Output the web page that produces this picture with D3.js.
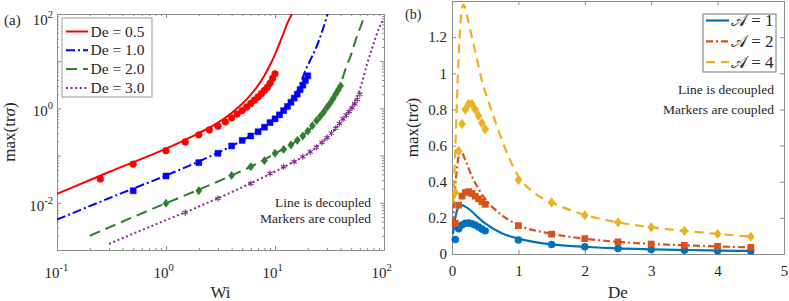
<!DOCTYPE html>
<html lang='en'>
<head>
<meta charset='utf-8'>
<title>max(tr sigma)</title>
<script src="https://d3js.org/d3.v7.min.js"></script>
</head>
<body style="margin:0;background:#fff;">
<div id='chart'></div>
<script type='text/javascript'>
	// ---- panel (a) data : max(tr sigma) vs Wi ----
	const seriesA = ["De = 0.5","De = 1.0","De = 2.0","De = 3.0"];
	const colorsA = ["#ff0000","#0000ff","#2f7f2f","#7e2f8e"];

	// decoupled lines
	const lineA1Wi  = [0.1,0.3,1,2,3,4,5,6,7,8,9,10,11,12,13,14.3];
	const lineA1Val = [0.0155,0.045,0.14,0.3,0.5,0.8,1.25,1.95,3.1,5,8.3,14,24,40,64,100];
	const lineA2Wi  = [0.1,0.3,1,2,3,5,7,10,13,16,19,22,24,27,30.4];
	const lineA2Val = [0.0044,0.0125,0.038,0.075,0.115,0.21,0.33,0.62,1.15,2.3,6.3,13,20,42,100];
	const lineA3Wi  = [0.2,0.5,1,2,4,6,10,15,20,25,30,35,40,45,50,56,62,67];
	const lineA3Val = [0.002,0.005,0.0098,0.019,0.038,0.058,0.11,0.19,0.33,0.55,0.95,1.7,3.3,7.5,14,32,60,100];
	const lineA4Wi  = [0.3,1,1.5,3,6,10,15,20,30,40,50,60,70,80,90,100];
	const lineA4Val = [0.00135,0.0043,0.0063,0.0125,0.026,0.046,0.075,0.11,0.24,0.5,1.05,2.5,8.7,23,50,80];

	// coupled markers
	const markA1Wi  = [0.25,0.5,1,1.5,2,2.5,3,3.5,4,4.5,5,5.5,6,6.5,7,7.5,8,8.5,9,9.5,10];
	const markA1Val = [0.032,0.066,0.127,0.195,0.275,0.35,0.42,0.52,0.63,0.76,0.9,1.07,1.27,1.5,1.75,2.05,2.4,2.8,3.4,4.3,5.4];
	const markA2Wi  = [0.5,1,2,3,4,5,6,7,8,9,10,11,12,13,14,15,16,17,18,19,20];
	const markA2Val = [0.018,0.037,0.071,0.112,0.16,0.21,0.26,0.32,0.4,0.5,0.6,0.73,0.9,1.1,1.35,1.65,2.0,2.5,3.1,3.9,4.9];
	const markA3Wi  = [1,2,4,6,8,10,12,14,16,18,20,22,24,26,28,30,32,34,36,38,40];
	const markA3Val = [0.0098,0.018,0.038,0.058,0.078,0.112,0.135,0.168,0.21,0.26,0.33,0.43,0.55,0.68,0.84,1.05,1.28,1.6,2.0,2.45,3.0];
	const markA4Wi  = [1.5,3,6,9,12,15,18,21,24,27,30,33,36,39,42,45,48,51,54,57,60];
	const markA4Val = [0.0062,0.0124,0.0257,0.042,0.058,0.074,0.095,0.12,0.15,0.19,0.24,0.3,0.38,0.48,0.6,0.72,0.86,1.03,1.25,1.55,2.0];

	const xTicksA = [0.1,1,10,100];
	const xTickExpA = ["-1","0","1","2"];
	const yTicksA = [1e-3,1e-2,1e-1,1,10,100];
	const yLabelTicksA = [1e-2,1,100];
	const yTickExpA = ["-2","0","2"];

	// ---- panel (b) data : max(tr sigma) vs De ----
	const seriesB = ["1","2","4"];
	const colorsB = ["#0072bd","#d95319","#edb120"];

	const lineB1De  = [0.015,0.05,0.1,0.15,0.2,0.3,0.4,0.5,0.75,1,1.5,2,2.5,3,3.5,4,4.5];
	const lineB1Val = [0.11,0.2,0.26,0.27,0.262,0.235,0.2,0.17,0.115,0.085,0.053,0.04,0.031,0.026,0.022,0.019,0.017];
	const lineB2De  = [0.015,0.04,0.08,0.12,0.16,0.2,0.3,0.4,0.5,0.75,1,1.5,2,2.5,3,3.5,4,4.5];
	const lineB2Val = [0.17,0.33,0.49,0.565,0.555,0.52,0.43,0.36,0.305,0.215,0.16,0.112,0.085,0.067,0.056,0.048,0.042,0.037];
	const lineB3De  = [0.02,0.03,0.05,0.075,0.105,0.14,0.17,0.2,0.25,0.35,0.45,0.6,0.8,1,1.25,1.5,2,2.5,3,3.5,4,4.5];
	const lineB3Val = [0.28,0.37,0.58,0.85,1.13,1.33,1.38,1.36,1.28,1.12,0.96,0.79,0.585,0.43,0.335,0.286,0.216,0.175,0.148,0.128,0.111,0.096];

	const markBDe   = [0.05,0.1,0.15,0.2,0.25,0.3,0.35,0.4,0.45,0.5,1,1.5,2,2.5,3,3.5,4,4.5];
	const markB1Val = [0.08,0.14,0.16,0.17,0.172,0.168,0.16,0.15,0.138,0.128,0.078,0.052,0.04,0.031,0.025,0.021,0.018,0.016];
	const markB2Val = [0.17,0.27,0.32,0.34,0.345,0.335,0.32,0.305,0.29,0.275,0.157,0.11,0.085,0.067,0.055,0.048,0.042,0.037];
	const markB3Val = [0.34,0.57,0.72,0.8,0.83,0.83,0.8,0.765,0.725,0.69,0.41,0.285,0.215,0.175,0.148,0.128,0.111,0.096];

	const xTicksB = [0,1,2,3,4,5];
	const yTicksB = [0,0.2,0.4,0.6,0.8,1,1.2,1.4];

	const axisColor = "#8c8c8c";
	const textColor = "#262626";
	const serif = "'Liberation Serif'";
	const zip = (xs,ys) => xs.map((v,i)=>[v,ys[i]]);

	// diamond a bit wider than d3's own
	const diamondWide = {draw(ctx,size){
		const a = Math.sqrt(size/1.5), b = 0.75*a;
		ctx.moveTo(0,-a); ctx.lineTo(b,0); ctx.lineTo(0,a); ctx.lineTo(-b,0); ctx.closePath();
	}};

	const svg = d3.select("#chart").append("svg")
		.attr("width",789).attr("height",301);

	function txt(g,x,y,size){
		return g.append("text").attr("x",x).attr("y",y)
			.style("font-family",serif).style("font-size",size+"px").attr("fill",textColor);
	}
	function styleAxis(g){
		g.attr("font-family",null);
		g.selectAll("path,line").attr("stroke",axisColor);
		g.selectAll("text").style("font-family",serif).style("font-size","15px").attr("fill",textColor);
	}

	// ================= panel (a) =================
	const boxA = {left:57,right:384,top:14,bottom:250};
	const xA = d3.scaleLog().domain([0.1,100]).range([boxA.left,boxA.right]);
	const yA = d3.scaleLog().domain([1e-3,1e2]).range([boxA.bottom,boxA.top]);

	const isMajor = (v,list) => list.some(m => Math.abs(m-v)/m < 1e-6);
	const xMinorA = xA.ticks().filter(v => !isMajor(v,xTicksA));
	const yMinorA = yA.ticks().filter(v => !isMajor(v,yTicksA));

	const gA = svg.append("g");
	[[d3.axisBottom(xA),boxA.bottom,xTicksA,xMinorA,"x"],[d3.axisTop(xA),boxA.top,xTicksA,xMinorA,"x"],
	 [d3.axisLeft(yA),boxA.left,yTicksA,yMinorA,"y"],[d3.axisRight(yA),boxA.right,yTicksA,yMinorA,"y"]]
	.forEach(function([ax,pos,major,minor,dir]){
		const tr = dir=="x" ? `translate(0,${pos})` : `translate(${pos},0)`;
		gA.append("g").attr("transform",tr)
			.call(ax.tickValues(major).tickSizeInner(-4).tickSizeOuter(0).tickFormat(()=>""))
			.call(styleAxis);
		gA.append("g").attr("transform",tr)
			.call(ax.tickValues(minor).tickSizeInner(-2).tickSizeOuter(0).tickFormat(()=>""))
			.call(styleAxis);
	});

	// log tick labels with superscripts
	xTicksA.forEach(function(v,i){
		const t = txt(gA,xA(v)-12.5,278,15);
		t.append("tspan").text("10");
		t.append("tspan").attr("dy",-7).style("font-size","10.5px").text(xTickExpA[i]);
	});
	yLabelTicksA.forEach(function(v,i){
		const t = txt(gA,53,Math.max(yA(v)+8,25),15).attr("text-anchor","end");
		t.append("tspan").text("10");
		t.append("tspan").attr("dy",-7).style("font-size","10.5px").text(yTickExpA[i]);
	});

	txt(gA,4,25,15).text("(a)");
	txt(gA,(boxA.left+boxA.right)/2,298,17).attr("text-anchor","middle").text("Wi");
	const ylabA = txt(gA,0,0,17).attr("transform",`translate(15,${(boxA.top+boxA.bottom)/2}) rotate(-90)`)
		.attr("text-anchor","middle");
	ylabA.append("tspan").text("max(tr");
	ylabA.append("tspan").style("font-style","italic").text("σ");
	ylabA.append("tspan").text(")");

	svg.append("clipPath").attr("id","clipA").append("rect")
		.attr("x",boxA.left).attr("y",boxA.top)
		.attr("width",boxA.right-boxA.left).attr("height",boxA.bottom-boxA.top);

	const lineGenA = d3.line().x(d=>xA(d[0])).y(d=>yA(d[1])).curve(d3.curveMonotoneX);
	const dashA = [null,"9,3,2,3","11,6","2,2.6"];
	const linesA = [zip(lineA1Wi,lineA1Val),zip(lineA2Wi,lineA2Val),zip(lineA3Wi,lineA3Val),zip(lineA4Wi,lineA4Val)];
	const marksA = [zip(markA1Wi,markA1Val),zip(markA2Wi,markA2Val),zip(markA3Wi,markA3Val),zip(markA4Wi,markA4Val)];
	const symA = [d3.symbol(d3.symbolCircle,36),d3.symbol(d3.symbolSquare,36),d3.symbol(diamondWide,26),d3.symbol(d3.symbolAsterisk,26)];

	const plotA = gA.append("g").attr("clip-path","url(#clipA)");
	linesA.forEach(function(pts,i){
		plotA.append("path").datum(pts).attr("d",lineGenA)
			.attr("fill","none").attr("stroke",colorsA[i]).attr("stroke-width",2)
			.attr("stroke-dasharray",dashA[i]);
		const isStroke = i==3;
		plotA.append("g").selectAll("path").data(marksA[i]).enter().append("path")
			.attr("transform",d=>`translate(${xA(d[0])},${yA(d[1])})`)
			.attr("d",symA[i])
			.attr("fill",isStroke?"none":colorsA[i])
			.attr("stroke",colorsA[i]).attr("stroke-width",isStroke?1.1:0.5);
	});

	// legend (a)
	const legA = gA.append("g");
	legA.append("rect").attr("x",62).attr("y",18).attr("width",90).attr("height",79)
		.attr("fill","#fff").attr("stroke","#999").attr("stroke-width",1);
	seriesA.forEach(function(s,i){
		const y = 31.5 + 18.8*i;
		legA.append("line").attr("x1",66).attr("x2",88).attr("y1",y).attr("y2",y)
			.attr("stroke",colorsA[i]).attr("stroke-width",2).attr("stroke-dasharray",dashA[i]);
		txt(legA,90.5,y+5,15.5).text(s);
	});

	txt(gA,371,207,13.5).attr("text-anchor","end").text("Line is decoupled");
	txt(gA,371,223,13.5).attr("text-anchor","end").text("Markers are coupled");

	// ================= panel (b) =================
	const boxB = {left:452,right:784,top:1,bottom:254};
	const xB = d3.scaleLinear().domain([0,5]).range([boxB.left,boxB.right]);
	const yB = d3.scaleLinear().domain([0,1.4]).range([boxB.bottom,boxB.top]);
	const gB = svg.append("g");

	gB.append("g").attr("transform",`translate(0,${boxB.bottom})`)
		.call(d3.axisBottom(xB).tickValues(xTicksB).tickSizeInner(-4).tickSizeOuter(0).tickPadding(11).tickFormat(d3.format("d")))
		.call(styleAxis);
	gB.append("g").attr("transform",`translate(0,${boxB.top})`)
		.call(d3.axisTop(xB).tickValues(xTicksB).tickSizeInner(-4).tickSizeOuter(0).tickFormat(()=>""))
		.call(styleAxis);
	gB.append("g").attr("transform",`translate(${boxB.left},0)`)
		.call(d3.axisLeft(yB).tickValues(yTicksB).tickSizeInner(-4).tickSizeOuter(0).tickPadding(5)
			.tickFormat(d => d==1.4 ? "" : d3.format("~g")(d)))
		.call(styleAxis);
	gB.append("g").attr("transform",`translate(${boxB.right},0)`)
		.call(d3.axisRight(yB).tickValues(yTicksB).tickSizeInner(-4).tickSizeOuter(0).tickFormat(()=>""))
		.call(styleAxis);

	txt(gB,405,19,14).text("(b)");
	txt(gB,(boxB.left+boxB.right)/2,298,17).attr("text-anchor","middle").text("De");
	const ylabB = txt(gB,0,0,17).attr("transform",`translate(418,${(boxB.top+boxB.bottom)/2}) rotate(-90)`)
		.attr("text-anchor","middle");
	ylabB.append("tspan").text("max(tr");
	ylabB.append("tspan").style("font-style","italic").text("σ");
	ylabB.append("tspan").text(")");

	const lineGenB = d3.line().x(d=>xB(d[0])).y(d=>yB(d[1])).curve(d3.curveMonotoneX);
	const dashB = [null,"7,3,2,3","9,6"];
	const linesB = [zip(lineB1De,lineB1Val),zip(lineB2De,lineB2Val),zip(lineB3De,lineB3Val)];
	const marksB = [zip(markBDe,markB1Val),zip(markBDe,markB2Val),zip(markBDe,markB3Val)];
	const symB = [d3.symbol(d3.symbolCircle,44),d3.symbol(d3.symbolSquare,46),d3.symbol(diamondWide,40)];

	const plotB = gB.append("g");
	linesB.forEach(function(pts,i){
		plotB.append("path").datum(pts).attr("d",lineGenB)
			.attr("fill","none").attr("stroke",colorsB[i]).attr("stroke-width",2.2)
			.attr("stroke-dasharray",dashB[i]);
		plotB.append("g").selectAll("path").data(marksB[i]).enter().append("path")
			.attr("transform",d=>`translate(${xB(d[0])},${yB(d[1])})`)
			.attr("d",symB[i]).attr("fill",colorsB[i]);
	});

	// legend (b)
	const legB = gB.append("g");
	legB.append("rect").attr("x",703).attr("y",14).attr("width",73).attr("height",58)
		.attr("fill","#fff").attr("stroke","#777").attr("stroke-width",1);
	seriesB.forEach(function(s,i){
		const y = 20.5 + 20.8*i;
		legB.append("line").attr("x1",706).attr("x2",729).attr("y1",y).attr("y2",y)
			.attr("stroke",colorsB[i]).attr("stroke-width",2.2).attr("stroke-dasharray",dashB[i]);
		const t = txt(legB,731,y+5.5,17);
		t.append("tspan").text("𝒜");
		t.append("tspan").text(" = " + s);
	});

	txt(gB,774,94,13.5).attr("text-anchor","end").text("Line is decoupled");
	txt(gB,774,114,13.5).attr("text-anchor","end").text("Markers are coupled");
</script>
</body>
</html>
